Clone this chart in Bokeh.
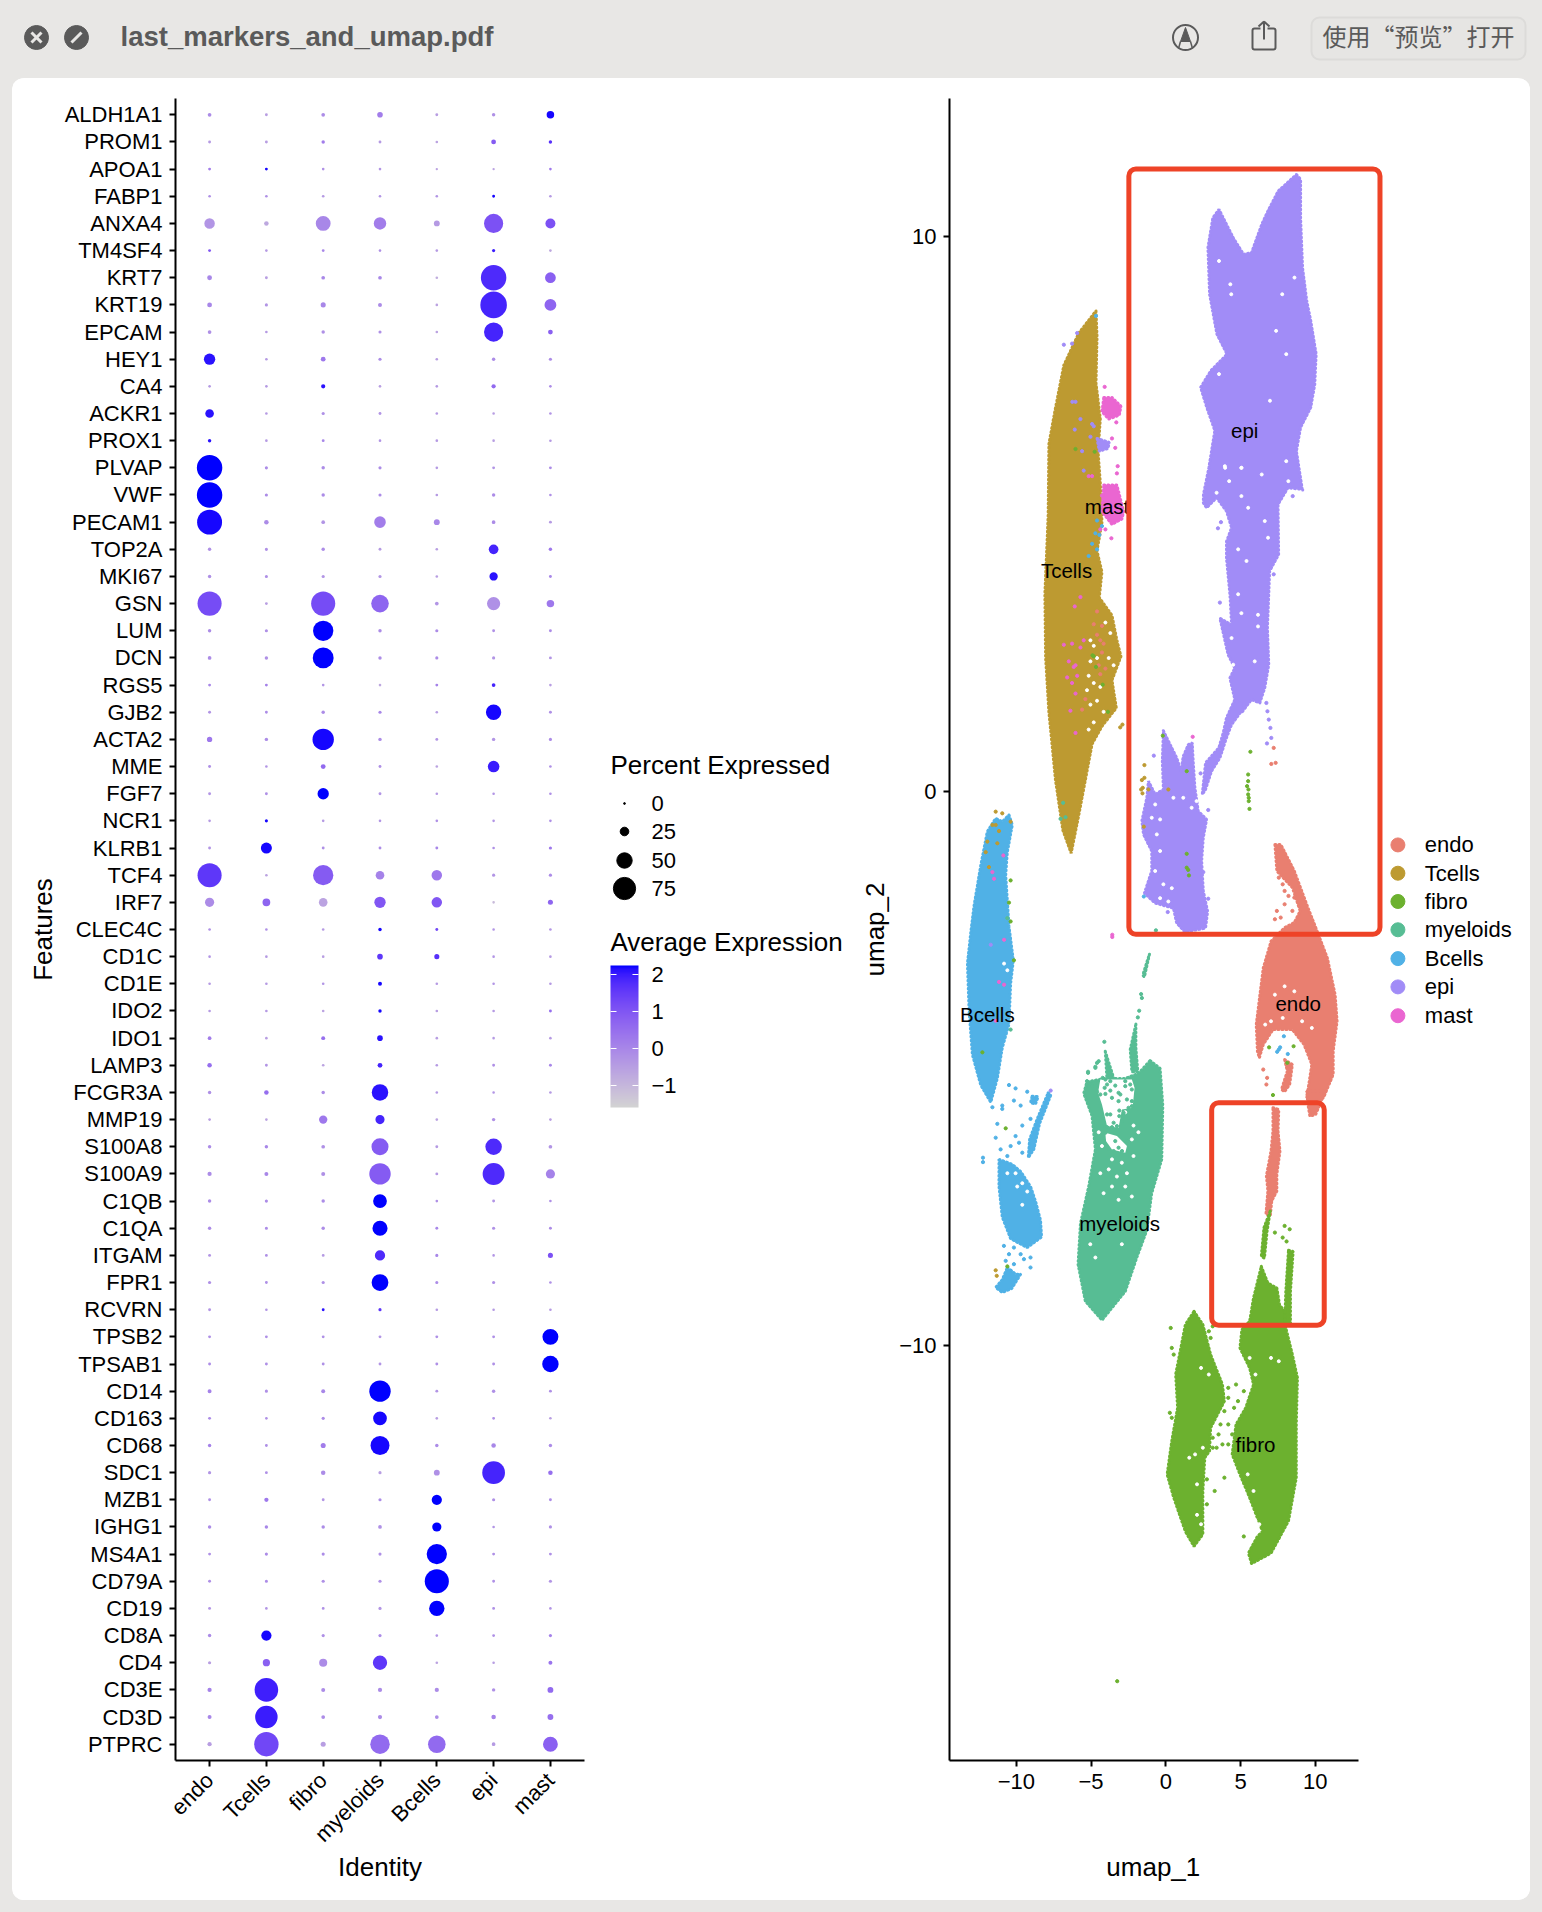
import math
from bokeh.embed import file_html
from bokeh.resources import INLINE
from bokeh.plotting import figure
from bokeh.layouts import column, row
from bokeh.core.properties import value
from bokeh.models import (BoxAnnotation, ColorBar, ColumnDataSource, FactorRange, FixedTicker,
                          LinearColorMapper, Range1d)

FONT = "Liberation Sans"
IDENTITY = ["endo", "Tcells", "fibro", "myeloids", "Bcells", "epi", "mast"]
COLORS = ["#e97f70", "#bd9a31", "#6cb12f", "#57bd94", "#50b1e6", "#a18cf7", "#ea66d1"]
GENES = ["ALDH1A1", "PROM1", "APOA1", "FABP1", "ANXA4", "TM4SF4", "KRT7", "KRT19", "EPCAM", "HEY1", "CA4",
         "ACKR1", "PROX1", "PLVAP", "VWF", "PECAM1", "TOP2A", "MKI67", "GSN", "LUM", "DCN", "RGS5", "GJB2",
         "ACTA2", "MME", "FGF7", "NCR1", "KLRB1", "TCF4", "IRF7", "CLEC4C", "CD1C", "CD1E", "IDO2", "IDO1",
         "LAMP3", "FCGR3A", "MMP19", "S100A8", "S100A9", "C1QB", "C1QA", "ITGAM", "FPR1", "RCVRN", "TPSB2",
         "TPSAB1", "CD14", "CD163", "CD68", "SDC1", "MZB1", "IGHG1", "MS4A1", "CD79A", "CD19", "CD8A", "CD4",
         "CD3E", "CD3D", "PTPRC"]
# Percent expressed, one row per gene, columns as IDENTITY
PCT = [[7,4,7,14,4,6,21],[4,4,6,4,3,11,6],[4,4,3,3,2,2,3],[3,3,3,3,3,4,3],[32,10,48,39,15,64,30],
       [4,3,4,3,3,5,3],[11,4,7,7,3,87,33],[11,5,12,8,3,91,37],[7,3,6,5,3,64,11],[35,3,11,5,3,6,5],
       [3,3,9,3,3,9,3],[25,3,5,4,3,3,3],[6,3,4,3,3,3,3],[87,5,6,5,3,4,4],[87,5,6,5,3,6,3],
       [85,10,7,36,15,7,4],[6,5,6,4,3,29,6],[6,5,5,5,3,24,4],[82,4,82,58,7,42,21],[6,5,68,6,5,4,4],
       [7,6,70,6,5,5,4],[4,4,3,3,4,7,3],[4,4,6,5,3,50,4],[13,6,72,6,4,6,5],[4,3,11,4,3,36,3],
       [4,4,35,4,3,3,3],[3,5,3,3,3,3,3],[4,34,4,4,4,3,5],[82,3,68,25,32,5,5],[27,22,25,35,32,3,12],
       [3,3,3,6,4,3,3],[3,3,3,14,12,3,3],[3,3,3,8,3,3,3],[3,3,3,6,3,3,4],[7,3,8,14,3,3,3],
       [10,4,3,11,3,4,4],[6,10,6,54,3,3,3],[3,3,24,27,3,6,3],[6,6,7,56,4,54,7],[9,8,8,72,4,74,27],
       [6,5,6,44,3,4,3],[6,5,6,49,4,5,4],[4,4,4,31,5,3,12],[5,4,5,55,5,5,3],[4,3,4,5,3,3,3],
       [4,4,4,4,4,4,52],[4,4,4,4,4,4,54],[8,5,8,72,4,6,4],[4,3,5,44,3,4,3],[6,4,12,63,6,10,6],
       [5,4,10,5,15,77,10],[4,9,4,5,31,5,4],[6,6,6,7,27,3,5],[4,5,5,5,68,4,4],[4,5,5,5,82,4,5],
       [4,3,4,5,50,4,3],[6,31,5,5,3,4,5],[5,20,23,46,3,3,8],[9,80,8,9,9,6,15],[8,76,7,9,7,10,15],
       [9,83,12,65,58,7,48]]
# Average expression, same shape
EXPR = [[-.1,-.5,-.1,.2,-.5,-.2,2.2],[-.4,-.5,.2,-.4,-.6,.9,1.7],[.2,2.2,-.2,-.3,-.6,-.6,.3],
        [-.2,-.2,-.4,-.3,-.3,2.2,-.4],[-.3,-.7,0,.2,-.4,1.1,1.1],[1,-.4,0,-.2,-.4,2,-.7],
        [0,-.5,0,0,-.8,1.8,.8],[0,-.3,0,-.1,-.6,1.9,.7],[-.2,-.4,-.2,-.2,-.6,1.9,.8],
        [2.1,-.4,.3,-.1,-.5,-.1,-.1],[-.4,-.4,2.1,-.5,-.4,.6,-.1],[2.1,-.4,-.2,-.3,-.4,-.5,-.3],
        [2.1,-.4,0,-.3,-.4,-.5,-.4],[2.25,-.1,-.1,-.1,-.4,-.3,-.1],[2.25,-.1,-.1,-.1,-.4,-.1,-.2],
        [2.2,-.1,-.3,.2,0,-.1,-.4],[-.2,-.2,-.1,-.4,-.5,1.9,.3],[-.2,-.2,-.3,-.3,-.5,2.1,0],
        [1.2,-.5,1.2,.7,-.3,-.2,.3],[-.1,-.2,2.25,-.1,-.1,-.2,-.1],[-.1,-.2,2.25,-.1,-.1,-.3,-.3],
        [0,.1,-.3,-.7,.1,1.9,-.5],[-.3,-.1,-.1,0,-.5,2.2,-.2],[.3,-.1,2.2,-.1,-.3,-.3,-.1],
        [-.2,-.3,.6,-.2,-.6,2,-.2],[-.3,-.2,2.25,-.3,-.4,-.3,-.2],[-.4,2.2,-.4,-.3,-.2,-.3,-.2],
        [-.3,2.2,-.2,-.1,0,-.2,.3],[1.6,-.6,.9,.1,.3,-.3,-.1],[-.1,.7,-.6,1,1,-1.1,.7],
        [-.2,-.2,-.4,2.2,1.3,-.3,-.3],[-.3,-.4,-.5,1.6,1.7,-.3,-.4],[-.4,-.4,-.3,2.2,-.4,-.3,-.4],
        [-.4,-.4,-.6,2.2,-.5,-.4,.5],[.2,-.5,.5,2.1,-.5,-.4,-.4],[.5,-.3,-.6,1.9,-.4,-.2,0],
        [-.2,.5,-.1,2.1,-.4,-.3,-.4],[-.5,-.6,.3,1.9,-.6,-.2,-.5],[-.1,0,-.2,.9,-.4,1.8,-.3],
        [-.1,0,-.2,.9,-.4,1.8,.1],[-.1,-.1,-.1,2.25,-.2,-.3,-.2],[-.1,-.1,-.1,2.25,0,-.2,-.1],
        [-.3,-.2,-.4,1.8,0,-.3,1.1],[-.2,-.2,-.2,2.25,-.1,-.2,-.2],[-.3,-.3,2.1,1.6,-.4,-.4,-.4],
        [-.2,-.2,-.2,-.3,-.2,-.2,2.25],[-.1,-.2,-.2,-.3,-.2,-.2,2.25],[.1,-.2,0,2.25,-.3,-.2,-.2],
        [-.1,-.2,-.1,2.2,-.5,-.2,-.5],[.1,-.2,.2,2.2,-.1,0,-.1],[-.3,-.2,-.1,-.5,-.2,1.9,.5],
        [-.2,.3,-.3,-.1,2.25,-.2,-.1],[-.1,0,-.1,-.2,2.25,-.3,-.2],[-.2,-.1,-.1,-.2,2.25,-.2,-.2],
        [-.2,-.1,-.2,-.2,2.25,-.2,-.3],[-.3,-.3,-.2,-.3,2.25,-.2,-.3],[-.1,2.2,-.2,-.1,-.3,-.2,.1],
        [-.5,.8,-.1,1.6,-.6,-.5,.4],[.1,1.95,-.1,-.1,-.1,-.2,.6],[0,2,-.1,-.1,-.1,.1,.5],
        [-.5,1.3,-.5,.6,.6,-.4,.8]]
SIZE_LEGEND = [0, 25, 50, 75]
COLORBAR_TICKS = [-1, 0, 1, 2]

# UMAP cluster outlines, in (umap_1, umap_2)
ENDO = [[(7.3,-.96),(7.69,-.96),(8.6,-1.44),(9.51,-2.1),(10.03,-2.46),(10.81,-3.01),(11.33,-3.67),(11.46,-4.15),
         (11.2,-4.69),(11.2,-5.11),(10.55,-5.53),(9.43,-5.53),(9.77,-4.93),(9.25,-4.57),(8.47,-4.3),(7.17,-4.3),
         (6.52,-4.57),(6.26,-4.81),(6.13,-4.69),(6.05,-4.21),(6.52,-3.19),(7.04,-2.71),(7.95,-2.46),(8.6,-2.37),
         (8.99,-2.16),(8.47,-1.74),(7.43,-1.44)],
        [(7.95,-4.84),(8.47,-4.93),(8.29,-5.29),(7.95,-5.42),(7.74,-5.38),(8.13,-5.05)],
        [(10.68,-5.41),(10.03,-5.83),(9.64,-5.86),(9.51,-5.65),(9.43,-5.41)],
        [(7.17,-5.71),(7.56,-5.74),(7.51,-6.13),(7.64,-6.49),(7.43,-6.91),(7.43,-7.21),(7.09,-7.39),(6.99,-7.66),
         (6.7,-7.63),(6.83,-7.21),(6.73,-6.94),(7.04,-6.49),(7.17,-6.13)]]
TCELLS = [[(-4.67,8.66),(-4.6,8.19),(-4.67,7.36),(-4.38,6.71),(-4.53,6.13),(-4.38,5.55),(-4.27,4.85),(-4.6,4.33),
           (-4.27,3.95),(-4.45,3.49),(-3.6,3.17),(-3.27,2.72),(-3.0,2.43),(-3.6,2.0),(-3.31,1.5),(-4.27,1.17),
           (-4.93,.85),(-5.38,.2),(-5.82,-.43),(-6.33,-1.12),(-6.89,-.7),(-7.38,.2),(-7.82,1.42),(-8.04,2.4),
           (-8.09,3.55),(-7.87,4.98),(-7.82,6.26),(-7.38,6.91),(-6.82,7.68),(-5.82,8.26)]]
FIBRO = [[(6.39,-8.57),(6.83,-8.87),(7.43,-8.96),(7.61,-9.26),(7.95,-9.38),(8.03,-9.68),(8.47,-10.16),(8.81,-10.58),
          (8.73,-11.42),(8.73,-12.38),(8.21,-13.16),(7.04,-13.74),(5.74,-13.93),(5.53,-13.74),(6.13,-13.44),
          (6.47,-13.35),(5.61,-12.74),(4.96,-12.32),(4.44,-11.96),(4.7,-11.42),(5.35,-11.12),(5.87,-10.7),
          (5.61,-10.4),(4.96,-10.04),(5.09,-9.71),(5.61,-9.56),(5.87,-9.14)],
         [(8.21,-8.28),(8.52,-8.3),(8.34,-9.02),(8.34,-9.62),(7.95,-9.62),(8.03,-9.02)],
         [(6.99,-7.57),(6.78,-7.93),(6.6,-8.42),(6.39,-8.39),(6.57,-7.87)],
         [(1.89,-9.38),(2.48,-9.62),(3.0,-10.16),(3.79,-10.7),(3.92,-11.0),(3.0,-11.48),(2.93,-11.9),(2.61,-12.02),
          (2.48,-12.62),(2.48,-13.4),(1.89,-13.62),(1.31,-13.35),(.53,-12.74),(.09,-12.32),(.4,-11.72),(.79,-11.12),
          (.66,-10.52),(1.31,-9.62)]]
MYELOIDS = [[(-1.05,-4.86),(-.38,-5.0),(-.2,-5.67),(-.27,-6.64),(-.94,-7.25),(-1.27,-7.92),(-1.94,-8.41),(-2.71,-9.02),
             (-4.27,-9.54),(-5.38,-9.2),(-5.87,-8.53),(-5.71,-7.8),(-5.16,-7.13),(-4.71,-6.46),(-4.94,-5.85),
             (-5.49,-5.45),(-5.27,-5.24),(-4.05,-5.18),(-2.71,-5.18),(-1.83,-5.09)],
            [(-1.09,-2.94),(-1.43,-3.35),(-1.54,-3.32),(-1.23,-3.05)],
            [(-2.0,-4.2),(-2.0,-4.63),(-1.87,-5.06),(-2.27,-5.06),(-2.38,-4.66)],
            [(-4.05,-4.69),(-3.49,-5.17),(-3.94,-5.17)]]
BCELLS = [[(-10.49,-.43),(-10.27,-.61),(-10.6,-1.1),(-10.71,-1.52),(-10.49,-2.44),(-10.2,-3.05),(-10.38,-3.47),
           (-10.49,-4.2),(-10.94,-4.63),(-11.27,-5.18),(-11.71,-5.61),(-12.38,-5.3),(-12.94,-4.75),(-13.16,-3.96),
           (-13.27,-3.11),(-13.05,-2.56),(-12.83,-2.07),(-12.38,-1.34),(-11.94,-.73),(-11.38,-.49),(-10.94,-.55)],
          [(-7.87,-5.44),(-7.69,-5.48),(-8.45,-6.0),(-8.83,-6.46),(-9.2,-6.61),(-9.11,-6.28),(-8.6,-5.91)],
          [(-8.94,-5.5),(-8.54,-5.51),(-8.71,-5.64),(-9.05,-5.62)],
          [(-11.16,-6.64),(-10.27,-6.73),(-9.71,-6.86),(-9.05,-7.13),(-8.71,-7.4),(-8.38,-7.74),(-8.31,-8.04),
           (-9.27,-8.23),(-10.38,-8.07),(-10.94,-7.68),(-11.16,-7.13)],
          [(-10.6,-8.59),(-10.05,-8.71),(-9.71,-8.71),(-10.31,-8.97),(-10.94,-9.04),(-11.38,-8.95),(-10.94,-8.81)]]
EPI = [[(8.74,11.12),(9.02,11.03),(9.02,10.34),(9.15,9.44),(9.43,8.84),(9.7,8.48),(10.06,7.88),(9.97,7.34),(9.7,6.92),
        (9.02,6.56),(8.74,6.13),(9.15,5.41),(9.17,5.44),(8.17,5.47),(7.51,5.17),(7.55,4.27),(6.95,3.97),(6.8,2.94),
        (6.89,2.28),(6.62,1.86),(6.29,1.59),(5.73,1.65),(5.06,1.41),(4.62,1.65),(4.29,2.04),(4.62,2.22),(4.17,2.46),
        (3.62,3.12),(4.4,3.0),(4.29,3.55),(4.06,4.2),(4.06,4.5),(4.4,4.75),(4.06,5.05),(3.4,5.29),(2.73,5.11),
        (2.51,5.2),(2.52,5.35),(2.88,5.83),(3.28,6.5),(2.74,6.92),(2.33,7.28),(3.01,7.58),(4.1,7.88),(3.42,8.24),
        (2.93,8.96),(2.82,9.8),(3.15,10.34),(3.56,10.49),(4.51,9.98),(5.2,9.68),(5.74,9.71),(6.42,10.22),(6.83,10.46),
        (7.52,10.82)],
       [(5.29,1.53),(4.4,1.2),(4.06,.96),(3.62,.6),(3.06,.36),(2.66,.03),(2.44,-.06),(2.66,.51),(3.55,.78),(3.84,1.05),
        (4.06,1.32),(4.62,1.65)],
       [(-.16,1.09),(.29,.84),(.73,.6),(1.02,.36),(1.17,.63),(1.51,.84),(1.77,.87),(1.84,.51),(1.95,.06),(2.17,-.36),
        (2.73,-.51),(2.51,-.84),(2.4,-1.26),(2.51,-1.8),(2.8,-2.17),(2.66,-2.47),(1.29,-2.54),(.73,-2.38),(.51,-2.11),
        (-.71,-2.02),(-1.43,-1.84),(-.94,-1.44),(-.94,-1.08),(-1.49,-.78),(-1.6,-.54),(-1.27,-.12),(-1.16,.18),
        (-.71,-.06),(-.16,.03),(-.23,.54)]]
MAST = [[(-4.15,7.1),(-3.6,7.1),(-3.0,6.94),(-3.11,6.78),(-3.82,6.71),(-4.27,6.84)],
        [(-4.15,5.52),(-3.27,5.52),(-2.82,5.04),(-2.93,4.91),(-3.6,4.81),(-4.27,5.04)]]
EPI_IN_TCELLS = [[(-4.6,6.36),(-3.78,6.29),(-3.87,6.18),(-4.45,6.13)]]

# Sparse regions: white gaps
GAP_POLYGONS = [[(-4.38,-5.2),(-2.27,-5.2),(-2.09,-5.35),(-2.22,-5.71),(-2.93,-5.74),(-3.16,-6.07),(-3.93,-6.04),
                 (-4.27,-5.65),(-4.53,-5.44)],
                [(-4.04,-6.16),(-3.27,-6.22),(-2.6,-6.4),(-2.71,-6.52),(-3.6,-6.46),(-4.0,-6.31)]]
GAPS = [(-5.04,2.72),(-4.82,2.62),(-5.04,2.34),(-4.6,2.4),(-5.16,2.08),(-4.82,1.95),(-4.38,1.88),(-5.04,1.56),(-4.6,1.63),
        (-4.16,1.43),(-4.82,1.24),(-5.16,1.11),(-5.27,1.82),(-3.82,2.4),(-4.04,3.04),(-3.71,2.85),(-3.49,2.27),
        (7.79,8.96),(8.61,9.26),(7.38,8.3),(8.06,7.88),(4.32,9.14),(4.38,8.96),(3.56,9.56),(3.97,5.83),(4.24,5.59),(6.97,7.04),
        (5.06,5.83),(6.42,5.71),(8.06,5.95),(8.2,5.59),(3.56,7.52),(3.95,5.86),(5.06,5.83),(3.4,5.38),(5.06,5.32),(6.62,4.87),
        (5.51,5.11),(6.84,4.57),(4.84,4.36),(5.4,4.15),(5.06,3.21),(6.17,2.97),(6.17,3.18),(5.95,2.34),(4.51,2.28),(4.4,2.76),
        (4.84,3.55),(-.71,-.24),(-.38,-.51),(-.6,-.78),(-.38,-1.08),(-.71,-1.44),(-.16,-1.68),(-.38,-1.93),(.17,-1.99),
        (2.06,-.18),(1.17,-.12),(1.73,-.3),(.51,-.12),(-.94,-.48),(.4,-1.75),
        (7.95,-3.52),(8.6,-3.61),(7.3,-3.67),(7.82,-4.09),(9.12,-4.15),(7.04,-4.15),(9.77,-4.27),(6.65,-4.21),
        (7.04,-10.22),(7.56,-10.28),(5.61,-10.22),(6.0,-10.52),(5.22,-10.4),(2.88,-10.52),(2.36,-10.4),(1.57,-12.02),(2.09,-12.5),
        (2.09,-13.05),(1.96,-11.96),(2.48,-11.84),(2.36,-13.22),(5.48,-12.32),(5.87,-12.62),(6.26,-13.22),(6.0,-13.16),
        (-9.94,-7.13),(-9.6,-7.07),(-9.27,-7.22),(-10.05,-6.89),(-9.6,-7.46),(-10.6,-6.89),(-10.82,-3.11),(-10.6,-3.23),
        (-2.71,-5.79),(-2.16,-6.03),(-1.83,-6.15),(-4.49,-6.15),(-4.27,-6.4),
        (-2.27,-6.28),(-3.6,-6.64),(-2.94,-6.7),(-2.16,-6.58),(-3.82,-6.82),(-3.27,-6.95),(-2.6,-6.89),(-4.38,-6.89),(-3.6,-7.13),
        (-2.71,-7.13),(-4.16,-7.25),(-3.16,-7.37),(-2.27,-7.31),(-4.71,-8.41),(-2.94,-8.17),(-5.05,-8.17)]

# Isolated cells, by identity
ENDO_CELLS = [(-4.6,3.24),(-4.27,2.98),(-4.82,3.01),(-4.38,2.72),(-4.16,2.66),(-4.6,2.82),(-4.27,2.5),(-4.04,2.21),(-4.38,2.11),
              (-4.49,2.27),(-5.38,1.66),(-5.6,1.47),(7.22,.78),(7.06,.49),(7.35,.51),(7.95,-1.8),(8.21,-1.89),(7.95,-2.04),
              (7.43,-2.16),(7.3,-2.31),(7.69,-2.28),(8.47,-2.16),(7.56,-1.56),(7.82,-1.68),(8.6,-1.92),(6.52,-5.02),(6.78,-5.17),(6.73,-5.29)]
TCELL_CELLS = [(-1.43,.47),(-1.6,.2),(-1.43,.24),(-1.65,.03),(-1.54,.06),(-1.16,.03),(-1.56,-.04),(-1.47,-.64),(.17,.03),
               (-11.38,-.37),(-10.94,-.4),(-10.38,-.55),(-11.6,-.61),(-11.38,-.61),(-11.16,-.72),(-11.94,-.91),(-11.27,-.94),(-12.05,-1.1),
               (-11.83,-1.37),(-11.38,-8.64),(-11.31,-8.74),(-2.9,1.2),(-3.05,1.15)]
FIBRO_CELLS = [(-6.04,6.17),(-4.82,2.43),(-4.9,2.45),(-4.67,2.24),(-4.22,1.92),(-3.87,1.43),(-4.76,6.12),(5.66,.71),(5.51,.3),
               (5.44,.09),(5.51,-.06),(5.55,-.18),(5.6,-.32),(5.51,.18),(5.53,.03),(5.55,-.12),(-.2,1.0),(1.4,-1.13),(1.4,-1.38),(1.5,-1.42),(1.55,-1.52),
               (1.4,.36),(6.91,-4.62),(8.55,-4.6),(8.13,-4.9),(7.17,-5.48),(7.95,-7.84),(8.29,-7.9),(7.82,-8.05),(7.3,-7.96),(8.08,-8.12),
               (4.18,-10.76),(4.7,-10.7),(4.18,-10.94),(4.57,-11.12),(3.92,-11.18),(3.66,-11.42),(4.18,-11.42),(3.53,-11.6),(3.14,-11.66),
               (3.79,-11.78),(4.18,-11.78),(3.14,-11.84),(3.4,-11.84),(4.44,-11.6),(4.83,-11.0),(5.22,-10.82),(2.88,-9.74),(3.14,-9.65),(3.0,-9.86),
               (.33,-9.68),(.4,-10.04),(.53,-10.16),(.27,-11.21),(.4,-11.3),(3.92,-12.38),(3.27,-12.62),(2.75,-12.86),(2.75,-12.41),(5.22,-13.44),
               (-3.25,-16.05),(-10.38,-1.61),(-10.49,-2.01),(-10.38,-2.35),(-10.16,-3.05),(-12.27,-4.71),(-10.71,-6.08),(-10.6,-8.57)]
MYELOID_CELLS = [(-1.65,-3.66),(-1.6,-3.73),(-1.78,-3.96),(-1.87,-4.08),(-4.11,-4.52),(-4.49,-4.87),(-4.71,-4.97),(-5.2,-5.06),
                 (-.66,-2.51),(-6.87,-.21),(-7.04,-.5),(-6.71,-.47),(-10.38,-4.3),(-10.6,-2.29),
                 (-4.04,-5.2),(-4.22,-5.17),(-3.71,-5.23),(-3.38,-5.31),(-3.93,-5.29),(-4.09,-5.35),(-3.71,-5.4),(-3.16,-5.44),
                 (-2.71,-5.23),(-2.38,-5.29),(-2.71,-5.32),(-2.27,-5.38),(-2.6,-5.56),(-3.04,-5.47),(-3.16,-5.59),(-3.6,-5.53),
                 (-4.04,-5.46),(-4.38,-5.47),(-4.6,-5.42),(-3.93,-5.83),(-3.71,-5.83),(-3.11,-5.76),(-2.82,-5.8),(-2.49,-5.71),
                 (-2.27,-5.68),(-3.11,-5.86),(-3.49,-5.98),(-3.27,-6.04),(-2.93,-5.95),(-2.49,-5.89),(-2.27,-5.59),(-4.27,-6.04),
                 (-3.93,-6.06),(-3.6,-6.06),(-4.04,-6.16),(-4.16,-6.3),(-3.38,-6.31),(-2.93,-6.49),(-2.6,-6.31),(-3.16,-6.43),
                 (-3.82,-6.46),(-3.49,-6.49),(-5.27,-5.23),(-4.93,-5.32),(-5.16,-5.32),(-5.2,-5.08),(-4.6,-4.9),(-4.71,-4.99)]
BCELL_CELLS = [(-11.6,-5.7),(-11.27,-6.0),(-10.94,-5.67),(-10.16,-5.58),(-10.05,-5.36),(-10.49,-5.3),(-9.71,-5.67),(-9.27,-5.42),
               (-10.94,-5.73),(-9.6,-6.03),(-9.05,-5.91),(-10.05,-6.22),(-11.38,-6.25),(-11.05,-6.46),(-9.82,-6.34),(-9.6,-6.52),(-10.38,-6.4),
               (-10.6,-6.58),(-12.23,-6.61),(-12.23,-6.69),(-10.83,-8.2),(-10.49,-8.35),(-10.16,-8.23),(-10.71,-8.47),(-10.16,-8.53),
               (-9.49,-8.44),(-9.05,-8.41),(-9.05,-8.59),(-9.71,-8.35),(-10.38,-8.65),(-4.71,4.65),(-4.44,4.62),(-4.93,4.46),(-4.6,4.36),
               (-5.16,4.24),(-4.27,4.78),(-4.6,4.88),(-4.67,8.57),(-1.47,-1.9),(7.56,-4.66),(7.45,-4.7),(7.65,-4.62),(7.9,-4.42),(8.16,-4.74)]
EPI_CELLS = [(-6.27,8.07),(-6.82,8.05),(-5.93,8.26),(-6.04,7.02),(-6.25,7.02),(-5.71,6.71),(-4.93,6.62),(-4.82,6.58),(-5.04,6.39),(-5.49,5.78),
             (-5.6,6.13),(-6.09,6.52),(6.73,1.59),(6.8,1.44),(6.89,1.29),(7.0,1.14),(7.06,.96),(6.77,.86),(-.8,.64),(2.33,.32),(2.84,-.34),
             (2.51,-1.46),(2.84,-1.94),(.13,-2.18),(8.49,5.32),(3.69,4.85),(3.49,4.74),(3.62,3.4),(7.22,3.91),(-11.71,-2.77),(-7.7,-5.4)]
MAST_CELLS = [(-4.09,7.29),(-3.31,6.65),(-3.6,6.36),(-3.38,6.19),(-3.22,5.86),(-3.27,5.73),(-3.64,4.56),(-4.04,4.72),(-6.82,2.64),
              (-6.27,2.66),(-6.04,2.27),(-5.71,2.59),(-6.49,2.34),(-6.6,2.05),(-6.27,1.95),(-6.04,1.76),(-6.38,1.45),(-6.04,1.05),
              (-5.71,3.5),(-6.09,3.33),(-5.49,2.72),(-5.93,2.08),(-6.16,2.24),(-4.93,5.68),(-5.16,5.68),(-4.27,5.33),(-4.38,4.72),
              (1.8,.98),(-3.58,-2.59),(-3.58,-2.63),(-10.87,-1.16),(-11.49,-1.58),(-10.82,-2.68),(-11.16,-3.44),(-10.82,-3.49),(-11.38,-4.14),(-11.6,-1.46)]

CLUSTER_LABELS = ["endo", "Tcells", "fibro", "myeloids", "Bcells", "epi", "mast"]
LABEL_X = [8.86, -6.64, 6.0, -3.09, -11.94, 5.28, -3.93]
LABEL_Y = [-3.83, 3.98, -11.78, -7.8, -4.03, 6.5, 5.13]
LEGEND_KEY_X = [15.53] * 7
LEGEND_TEXT_X = [17.33] * 7
LEGEND_Y = [-.97, -1.48, -1.99, -2.5, -3.02, -3.53, -4.05]
BOX_LARGE = dict(left=-2.47, right=14.33, top=11.22, bottom=-2.58)
BOX_SMALL = dict(left=3.07, right=10.6, top=-5.62, bottom=-9.63)
RED = "#ee4327"
WINDOW = "#e8e7e5"
INK = "#5a5a5a"


def pct_to_size(p):
    return 1.8 + 0.272 * p


def lab_palette(a, b, n=256):
    def to_lab(c):
        r = [(v / 255 / 12.92 if v / 255 <= .04045 else ((v / 255 + .055) / 1.055) ** 2.4) for v in c]
        x = (.4124 * r[0] + .3576 * r[1] + .1805 * r[2]) / .95047
        y = .2126 * r[0] + .7152 * r[1] + .0722 * r[2]
        z = (.0193 * r[0] + .1192 * r[1] + .9505 * r[2]) / 1.08883
        f = lambda t: t ** (1 / 3) if t > .008856 else 7.787 * t + 16 / 116
        return 116 * f(y) - 16, 500 * (f(x) - f(y)), 200 * (f(y) - f(z))

    def to_hex(l, aa, bb):
        fy = (l + 16) / 116
        fx, fz = fy + aa / 500, fy - bb / 200
        g = lambda t: t ** 3 if t ** 3 > .008856 else (t - 16 / 116) / 7.787
        x, y, z = .95047 * g(fx), g(fy), 1.08883 * g(fz)
        rgb = [3.2406 * x - 1.5372 * y - .4986 * z, -.9689 * x + 1.8758 * y + .0415 * z, .0557 * x - .2040 * y + 1.0570 * z]
        out = []
        for v in rgb:
            v = max(0, min(1, v))
            v = 12.92 * v if v <= .0031308 else 1.055 * v ** (1 / 2.4) - .055
            out.append(round(v * 255))
        return "#%02x%02x%02x" % tuple(out)

    la, lb = to_lab(a), to_lab(b)
    return [to_hex(*[la[k] + (lb[k] - la[k]) * i / (n - 1) for k in range(3)]) for i in range(n)]


mapper = LinearColorMapper(palette=lab_palette((211, 211, 211), (0, 0, 255)), low=-1.6, high=2.25)


def style_axis(ax):
    ax.axis_line_color = "black"
    ax.axis_line_width = 2
    ax.major_tick_line_color = "black"
    ax.major_tick_line_width = 2
    ax.major_tick_out = 6
    ax.major_tick_in = 0
    ax.minor_tick_line_color = None
    ax.major_label_text_font = FONT
    ax.major_label_text_font_size = "22px"
    ax.major_label_text_color = "black"
    ax.axis_label_text_font = FONT
    ax.axis_label_text_font_size = "26px"
    ax.axis_label_text_font_style = "normal"
    ax.axis_label_text_color = "black"
    ax.major_label_standoff = 7


FIG_H = 1822

# ---------- dot plot ----------
dot = figure(width=578, height=FIG_H, output_backend="svg", toolbar_location=None,
             x_range=FactorRange(factors=IDENTITY, range_padding=0.1, range_padding_units="absolute"),
             y_range=FactorRange(factors=GENES[::-1], range_padding=0.1, range_padding_units="absolute"),
             min_border_left=163, min_border_right=6, min_border_top=20, min_border_bottom=140,
             x_axis_label="Identity", y_axis_label="Features", outline_line_color=None)
dot.grid.visible = False
dot.border_fill_color = "white"
style_axis(dot.xaxis[0])
style_axis(dot.yaxis[0])
dot.xaxis[0].major_label_orientation = math.pi / 4
dot.xaxis[0].major_label_standoff = 10
dot.xaxis[0].axis_label_standoff = -7
dot.yaxis[0].axis_label_standoff = 4
dx, dy, dp, de = [], [], [], []
for g, ps, es in zip(GENES, PCT, EXPR):
    for ident, pv, ev in zip(IDENTITY, ps, es):
        dx.append(ident); dy.append(g); dp.append(pct_to_size(pv)); de.append(ev)
dot.scatter(x="x", y="y", size="s", source=ColumnDataSource(dict(x=dx, y=dy, s=dp, e=de)),
            fill_color={"field": "e", "transform": mapper}, line_color=None)

# ---------- legends between the panels ----------
leg = figure(width=267, height=FIG_H, output_backend="svg", toolbar_location=None,
             x_range=Range1d(590, 857), y_range=Range1d(1760, 98), min_border_left=0, min_border_right=0,
             min_border_top=20, min_border_bottom=140, outline_line_color=None)
leg.axis.visible = False
leg.grid.visible = False
leg.border_fill_color = "white"
leg_y = [803, 831, 860, 888]
leg.scatter(x=[624] * 4, y=leg_y, size=[pct_to_size(v) for v in SIZE_LEGEND], color="black")
leg.text(x=[651] * 4, y=leg_y, text=[str(v) for v in SIZE_LEGEND], text_font=value(FONT), text_font_size="22px",
         text_baseline="middle", text_color="black")
leg.text(x=[610, 610], y=[764, 941], text=["Percent Expressed", "Average Expression"], text_font=value(FONT),
         text_font_size="26px", text_baseline="middle", text_color="black")
cbar = ColorBar(color_mapper=mapper, ticker=FixedTicker(ticks=COLORBAR_TICKS), width=28, height=142,
                location=(20, 653), orientation="vertical", padding=0, margin=0, bar_line_color=None,
                major_tick_line_color="white", major_tick_line_width=1, major_tick_in=6, major_tick_out=0,
                minor_tick_line_color=None, label_standoff=13, major_label_text_font=FONT,
                major_label_text_font_size="22px", major_label_text_color="black",
                major_label_overrides={-1: "\u22121"}, background_fill_alpha=0, border_line_color=None)
leg.add_layout(cbar, "center")
leg.segment(x0=[610] * 4, x1=[616] * 4, y0=[974, 1011, 1048, 1085], y1=[974, 1011, 1048, 1085], line_color="white",
            line_width=1, level="overlay")

# ---------- UMAP ----------
# The frame runs on under the legend and the red box, so the x label is padded to sit under the visible axis.
umap = figure(width=673, height=FIG_H, output_backend="svg", toolbar_location=None,
              x_range=Range1d(-14.47, 24.4), y_range=Range1d(-17.48, 12.49),
              min_border_left=90, min_border_right=0, min_border_top=20, min_border_bottom=140,
              x_axis_label="umap_1" + "\u00a0" * 24, y_axis_label="umap_2", outline_line_color=None)
umap.grid.visible = False
umap.border_fill_color = "white"
style_axis(umap.xaxis[0])
style_axis(umap.yaxis[0])
umap.xaxis[0].ticker = FixedTicker(ticks=[-10, -5, 0, 5, 10])
umap.yaxis[0].ticker = FixedTicker(ticks=[-10, 0, 10])
umap.xaxis[0].bounds = (-14.47, 12.87)
umap.xaxis[0].major_label_overrides = {-10: "\u221210", -5: "\u22125"}
umap.yaxis[0].major_label_overrides = {-10: "\u221210"}
umap.xaxis[0].axis_label_standoff = 60
umap.yaxis[0].axis_label_standoff = 6


def draw_parts(parts, color):
    umap.patches(xs=[[v[0] for v in part] for part in parts], ys=[[v[1] for v in part] for part in parts],
                 fill_color=color, line_color=color, line_width=3, line_dash="1 3", line_cap="round")


CLUSTERS = [ENDO, TCELLS, FIBRO, MYELOIDS, BCELLS, EPI, MAST]
CELLS = [ENDO_CELLS, TCELL_CELLS, FIBRO_CELLS, MYELOID_CELLS, BCELL_CELLS, EPI_CELLS, MAST_CELLS]
for parts, col in zip(CLUSTERS, COLORS):
    draw_parts(parts, col)
draw_parts(EPI_IN_TCELLS, COLORS[5])
umap.patches(xs=[[v[0] for v in part] for part in GAP_POLYGONS], ys=[[v[1] for v in part] for part in GAP_POLYGONS],
             fill_color="white", line_color=None)
umap.scatter(x=[v[0] for v in GAPS], y=[v[1] for v in GAPS], size=3, color="white")
for cells, col in zip(CELLS, COLORS):
    umap.scatter(x=[v[0] for v in cells], y=[v[1] for v in cells], size=3.2, color=col)
umap.text(x=LABEL_X, y=LABEL_Y, text=CLUSTER_LABELS, text_font=value(FONT), text_font_size="20.5px",
          text_align="center", text_baseline="middle", text_color="black")
umap.scatter(x=LEGEND_KEY_X, y=LEGEND_Y, size=14, color=COLORS)
umap.text(x=LEGEND_TEXT_X, y=LEGEND_Y, text=IDENTITY, text_font=value(FONT), text_font_size="22px",
          text_baseline="middle", text_color="black")
for box in (BOX_LARGE, BOX_SMALL):
    umap.add_layout(BoxAnnotation(fill_alpha=0, line_color=RED, line_width=5, line_alpha=1, border_radius=7, **box))

# ---------- window header ----------
head = figure(width=1542, height=78, output_backend="svg", toolbar_location=None, x_range=Range1d(0, 1542),
              y_range=Range1d(78, 0), min_border=0, outline_line_color=None)
head.axis.visible = False
head.grid.visible = False
head.background_fill_color = WINDOW
head.border_fill_color = WINDOW
head.scatter(x=[36, 76], y=[37, 37], size=24, color=INK)
head.segment(x0=[31, 41, 71], y0=[32, 32, 42], x1=[41, 31, 81], y1=[42, 42, 32], line_color=WINDOW, line_width=3)
head.text(x=[120], y=[36], text=["last_markers_and_umap.pdf"], text_font=value(FONT), text_font_style="bold",
          text_font_size="27.5px", text_color=INK, text_baseline="middle")
head.scatter(x=[1185], y=[37], size=25, fill_color=None, line_color=INK, line_width=2)
head.patches(xs=[[1185, 1180, 1190]], ys=[[27, 41, 41]], fill_color=INK, line_color=INK)
head.segment(x0=[1180, 1190], y0=[41, 41], x1=[1178, 1192], y1=[48, 48], line_color=INK, line_width=1.5)
head.quad(left=[1252], right=[1275], top=[28], bottom=[49], fill_color=None, line_color=INK, line_width=2, border_radius=2)
head.quad(left=[1260], right=[1267], top=[22], bottom=[30], fill_color=WINDOW, line_color=None)
head.segment(x0=[1263.5, 1263.5, 1263.5], y0=[39, 21, 21], x1=[1263.5, 1258, 1269], y1=[21, 26, 26], line_color=INK,
             line_width=2)
head.add_layout(BoxAnnotation(left=1311, right=1525, top=17, bottom=59, fill_color="#e6e5e3", fill_alpha=1,
                              line_color="#dcdbd9", line_width=2, line_alpha=1, border_radius=8))
head.text(x=[1418], y=[35], text=["使用“预览”打开"], text_font=value("Noto Sans CJK SC"), text_font_size="24px",
          text_color=INK, text_align="center", text_baseline="middle", level="overlay")

body = row(dot, leg, umap, spacing=0, margin=(0, 12, 0, 12),
           styles={"border-radius": "12px", "overflow": "hidden", "background": "white"})
page = column(head, body, spacing=0)
html = file_html(page, INLINE)
html = html.replace("<head>", "<head><style>html,body{background:%s}</style>" % WINDOW, 1)
open("out.html", "w").write(html)
